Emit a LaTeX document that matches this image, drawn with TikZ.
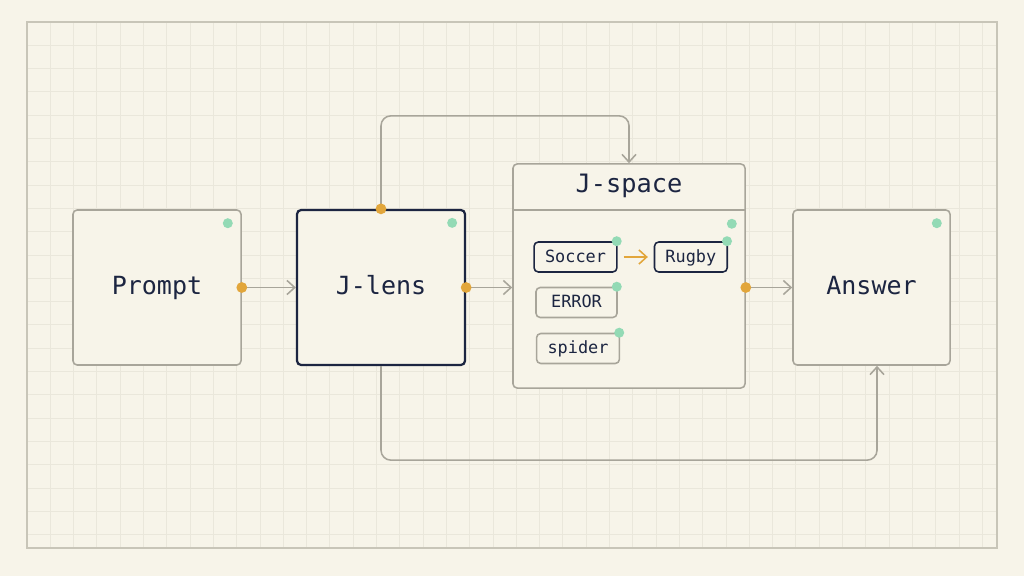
\documentclass[tikz,border=0pt]{standalone}
\usepackage{fontspec}
\setmonofont{DejaVu Sans Mono}
\usetikzlibrary{arrows.meta,calc,positioning}
\definecolor{paper}{HTML}{F7F4E9}
\definecolor{gridc}{HTML}{EAE7DB}
\definecolor{framec}{HTML}{C8C5B8}
\definecolor{edge}{HTML}{A8A59A}
\definecolor{navy}{HTML}{1C2541}
\definecolor{amber}{HTML}{E2A63B}
\definecolor{mint}{HTML}{93DAB5}
\tikzset{%
	block/.style  = {draw=edge, line width=1.1pt, rounded corners=3pt, fill=paper, text=navy,
	                 text height=1.0em, text depth=0em,
	                 minimum width=4.2cm, minimum height=3.875cm, font=\ttfamily\fontsize{17.8}{20}\selectfont},
	focus/.style  = {block, draw=navy, line width=1.6pt},
	space/.style  = {draw=edge, line width=1.1pt, rounded corners=3pt, fill=paper,
	                 minimum width=5.8cm, minimum height=5.6cm},
	chip/.style   = {draw=edge, line width=1.1pt, rounded corners=3pt, fill=paper, text=navy,
	                 text height=0.72em, text depth=0em,
	                 inner xsep=7.8pt, minimum height=0.75cm, font=\ttfamily\fontsize{12}{14}\selectfont},
	hot/.style    = {chip, draw=navy},
	gdot/.style   = {circle, fill=mint, inner sep=0pt, minimum size=0.25cm}, % state marker
	odot/.style   = {circle, fill=amber, inner sep=0pt, minimum size=0.27cm}, % port
	conn/.style   = {draw=edge, line width=1.1pt, rounded corners=7pt, -{Straight Barb[length=5.5pt,width=10pt]}},
	hop/.style    = {draw=amber, line width=1.1pt, -{Straight Barb[length=5.5pt,width=10pt]},
	                 shorten <=4.2pt, shorten >=4.2pt},
}

\begin{document}
\begin{tikzpicture}[x=0.025cm,y=-0.025cm]
		\useasboundingbox[fill=paper] (0,0) rectangle (1024,576);
		% grid paper
		\foreach \i in {0,...,41} \draw[gridc, line width=0.6pt] (27+\i*23.3,22) -- (27+\i*23.3,548);
		\foreach \j in {0,...,22} \draw[gridc, line width=0.6pt] (27,22+\j*23.3) -- (997,22+\j*23.3);
		\draw[framec, line width=1.2pt] (27,22) rectangle (997,548);
		
		\node [block] (pr) at (157,287.5) {Prompt};
		\node [focus] (jl) at (381,287.5) {J-lens};
		\node [space] (js) at (629,276) {};
		\node [anchor=north, minimum height=1.15cm, text=navy, text height=0.8em, text depth=0em,
		       font=\ttfamily\fontsize{18}{20}\selectfont] (jt) at (js.north) {J-space};
		\node [block, minimum width=3.925cm] (an) at (871.5,287.5) {Answer};
		\draw[edge, line width=1.1pt] (js.west |- jt.south) -- (js.east |- jt.south);
		
		% tokens inside J-space
		\node [hot] (sc) at (575.5,257) {Soccer};
		\node [hot] (rg) [right=0.9cm of sc] {Rugby};
		\node [chip, minimum width=2.025cm] (er) at (576.5,302.5) {ERROR};
		\node [chip] (sp) at (578,348.5) {spider};
		\draw[hop] (sc.east) -- (rg.west);
		
		% connectors
		\draw[conn] (pr.east) -- (jl.west);
		\draw[conn] (jl.east) -- (js.west |- jl.east);
		\draw[conn] (js.east |- an.west) -- (an.west);
		\draw[conn] (jl.north) -- ++(0,-93) -| (js.north);
		\draw[conn] (jl.south) -- ++(0,94) -| ($(an.south)+(5.5,0)$);
		
		% ports and markers
		\node [odot] (pr-o) at (pr.east) {};
		\node [odot] (jl-o) at (jl.east) {};
		\node [odot] (jl-t) at (jl.north) {};
		\node [odot] (js-o) at (js.east |- an.west) {};
		\node [gdot] (pr-g) at ($(pr.north east)+(-14,14)$) {};
		\node [gdot] (jl-g) at ($(jl.north east)+(-14,14)$) {};
		\node [gdot] (js-g) at ($(js.east |- jt.south)+(-14,14)$) {};
		\node [gdot] (an-g) at ($(an.north east)+(-14,14)$) {};
		\node [gdot] (sc-g) at ($(sc.north east)+(-1,0)$) {};
		\node [gdot] (rg-g) at ($(rg.north east)+(-1,0)$) {};
		\node [gdot] (er-g) at ($(er.north east)+(-1,0)$) {};
		\node [gdot] (sp-g) at ($(sp.north east)+(-1,0)$) {};
\end{tikzpicture}
\end{document}
